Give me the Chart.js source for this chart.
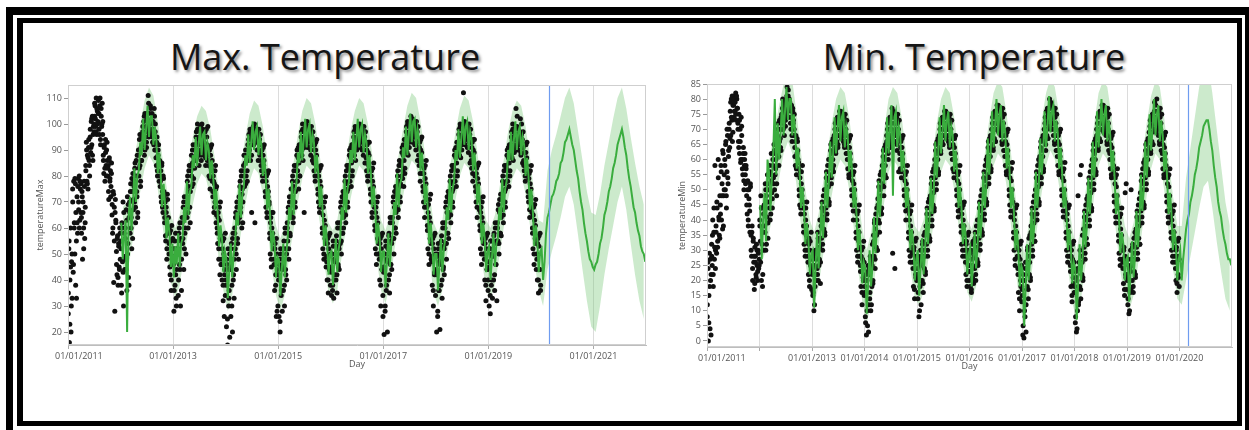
<!DOCTYPE html>
<html>
<head>
<meta charset="utf-8">
<script src="https://cdn.jsdelivr.net/npm/chart.js@4.4.1/dist/chart.umd.min.js"></script>
<style>
  body { margin: 0; width: 1249px; height: 430px; overflow: hidden; background: #fff; position: relative; font-family: "Open Sans", sans-serif; }
  .outer { position: absolute; left: 6px; top: 7px; width: 1247px; height: 440px; box-sizing: border-box;
           border-top: 8px solid #000; border-left: 7px solid #000; border-right: 8px solid #000; }
  .inner { position: absolute; left: 17px; top: 18px; width: 1225px; height: 408px; box-sizing: border-box;
           border: 5px solid #000; border-left-width: 6px; }
  .title { position: absolute; top: 32px; width: 600px; text-align: center; font-size: 36px; line-height: 50px;
           color: #151515; text-shadow: 2px 2px 3px rgba(0,0,0,0.45); }
  canvas { position: absolute; }
</style>
</head>
<body>
<div class="outer"></div>
<div class="inner"></div>
<div class="title" style="left:25px">Max. Temperature</div>
<div class="title" style="left:674px">Min. Temperature</div>
<canvas id="maxChart" width="636" height="305" style="left:24px;top:75px"></canvas>
<canvas id="minChart" width="574" height="306" style="left:662px;top:74px"></canvas>
<script>
// ---- data ----
// daily readings, sampled 8 per month, Jan 2011 .. Dec 2019
const maxDots = [
  // 2011
  27, 52, 16, 40, 60, 20, 47, 33,   75, 43, 78, 62, 50, 77, 66, 33,   72, 58, 79, 67, 80, 63, 75, 77,
  64, 74, 48, 70, 60, 78, 56, 68,   84, 93, 78, 88, 75, 91, 86, 80,   95, 89, 101, 92, 103, 86, 99, 97,
  103, 107, 99, 110, 96, 105, 101, 109,   104, 96, 110, 92, 106, 99, 108, 101,   88, 81, 92, 78, 94, 84, 90, 86,
  80, 84, 71, 87, 78, 82, 76, 85,   65, 58, 74, 39, 68, 28, 71, 62,   51, 42, 57, 38, 54, 45, 60, 48,
  // 2012
  55, 38, 62, 47, 70, 30, 58, 44,   60, 48, 67, 36, 72, 54, 41, 64,   70, 58, 77, 64, 52, 74, 81, 67,
  78, 70, 85, 62, 80, 74, 88, 66,   88, 80, 94, 84, 76, 91, 86, 95,   97, 92, 101, 88, 104, 95, 99, 91,
  102, 98, 111, 95, 104, 100, 107, 97,   98, 104, 93, 101, 96, 106, 90, 100,   90, 84, 95, 80, 88, 92, 78, 86,
  76, 82, 70, 85, 74, 66, 79, 72,   62, 70, 55, 66, 48, 73, 58, 64,   50, 58, 42, 55, 36, 61, 46, 52,
  // 2013
  46, 28, 52, 38, 58, 33, 44, 50,   52, 34, 58, 46, 62, 30, 55, 48,   62, 54, 68, 44, 72, 58, 66, 50,
  72, 64, 80, 60, 76, 84, 68, 74,   82, 88, 76, 85, 92, 79, 86, 90,   92, 86, 97, 90, 100, 88, 94, 84,
  95, 90, 99, 86, 96, 92, 98, 89,   93, 88, 97, 84, 91, 95, 86, 99,   86, 80, 90, 75, 88, 83, 92, 78,
  74, 80, 66, 77, 70, 84, 62, 76,   60, 54, 66, 48, 63, 42, 70, 57,   48, 40, 55, 32, 50, 26, 44, 58,
  // 2014
  40, 22, 46, 15, 52, 30, 36, 18,   46, 26, 54, 38, 20, 58, 42, 33,   60, 52, 66, 44, 70, 56, 63, 48,
  72, 64, 78, 68, 82, 60, 75, 70,   82, 88, 76, 85, 90, 80, 86, 78,   92, 88, 96, 90, 98, 86, 94, 66,
  96, 92, 99, 94, 97, 62, 98, 95,   94, 90, 97, 86, 95, 92, 88, 96,   86, 82, 90, 78, 88, 84, 92, 80,
  74, 68, 80, 64, 76, 72, 82, 70,   58, 50, 64, 45, 60, 55, 66, 52,   48, 36, 54, 42, 26, 50, 44, 30,
  // 2015
  42, 26, 48, 20, 52, 34, 45, 28,   48, 36, 55, 30, 60, 44, 52, 40,   62, 55, 68, 48, 72, 58, 65, 75,
  72, 66, 80, 62, 76, 84, 70, 74,   84, 78, 90, 82, 87, 75, 92, 80,   92, 88, 97, 90, 100, 86, 94, 66,
  97, 93, 100, 95, 98, 91, 99, 94,   95, 91, 98, 88, 96, 93, 86, 97,   87, 82, 92, 78, 90, 84, 94, 80,
  75, 70, 82, 66, 78, 72, 84, 68,   60, 52, 68, 48, 63, 56, 72, 45,   49, 40, 56, 35, 52, 44, 58, 38,
  // 2016
  45, 34, 50, 38, 55, 33, 48, 42,   50, 40, 57, 35, 62, 46, 53, 44,   62, 54, 70, 50, 66, 58, 74, 60,
  73, 66, 80, 62, 77, 84, 70, 75,   84, 78, 90, 80, 87, 76, 92, 82,   92, 88, 97, 90, 99, 86, 94, 90,
  97, 93, 99, 95, 98, 91, 96, 94,   95, 90, 98, 88, 96, 92, 85, 97,   87, 82, 92, 78, 89, 84, 93, 80,
  75, 70, 82, 64, 78, 72, 85, 68,   61, 52, 68, 46, 64, 56, 72, 50,   50, 40, 56, 30, 52, 44, 58, 26,
  // 2017
  45, 19, 50, 30, 55, 36, 48, 20,   52, 40, 58, 35, 64, 46, 55, 44,   64, 56, 72, 50, 68, 60, 76, 58,
  75, 68, 82, 64, 78, 86, 72, 77,   85, 80, 91, 82, 88, 76, 94, 83,   94, 90, 99, 92, 101, 88, 96, 91,
  99, 95, 103, 97, 100, 93, 98, 96,   97, 92, 100, 90, 98, 94, 86, 99,   88, 84, 93, 78, 90, 86, 95, 81,
  76, 70, 83, 64, 79, 72, 86, 68,   61, 52, 69, 46, 64, 56, 73, 48,   49, 38, 56, 30, 52, 42, 58, 34,
  // 2018
  44, 20, 50, 28, 54, 36, 47, 21,   50, 38, 57, 33, 62, 44, 53, 42,   62, 54, 70, 48, 66, 58, 74, 56,
  73, 66, 80, 62, 77, 84, 70, 75,   84, 78, 90, 80, 87, 76, 93, 82,   93, 89, 98, 91, 100, 87, 95, 90,
  98, 94, 112, 96, 100, 92, 99, 95,   96, 91, 99, 89, 97, 93, 85, 98,   88, 83, 93, 78, 90, 85, 94, 80,
  76, 70, 83, 64, 79, 72, 85, 67,   61, 52, 68, 46, 64, 56, 72, 50,   50, 40, 56, 32, 52, 44, 58, 36,
  // 2019
  47, 30, 52, 27, 55, 38, 50, 33,   52, 40, 58, 36, 62, 46, 55, 32,   62, 55, 69, 50, 66, 58, 73, 57,
  73, 67, 80, 62, 77, 84, 70, 75,   84, 78, 90, 80, 87, 76, 92, 82,   92, 88, 97, 90, 100, 86, 94, 89,
  96, 92, 106, 94, 99, 90, 98, 93,   94, 90, 102, 88, 96, 92, 85, 97,   86, 82, 92, 78, 89, 84, 93, 80,
  74, 70, 81, 64, 77, 72, 84, 66,   60, 52, 68, 46, 63, 56, 71, 44,   50, 40, 56, 35, 53, 44, 58, 38
];
// second set of daily readings, 6 per month, Jan 2011 .. Dec 2019
const maxDotsB = [
  35, 55, 23, 45, 30, 50,  70, 46, 60, 79, 38, 55,  62, 76, 70, 60, 78, 66,  58, 72, 66, 52, 76, 62,  82, 90, 77, 87, 94, 84,  98, 91, 102, 88, 96, 100,
  108, 102, 97, 106, 100, 104,  98, 107, 94, 103, 100, 96,  86, 91, 83, 89, 80, 93,  83, 74, 86, 79, 72, 81,  69, 60, 73, 55, 66, 63,  46, 56, 41, 53, 44, 58,
  52, 35, 60, 43, 66, 49,  56, 44, 63, 50, 69, 38,  66, 74, 60, 79, 56, 71,  76, 83, 68, 86, 72, 64,  90, 83, 96, 78, 86, 92,  99, 94, 103, 90, 97, 93,
  104, 99, 108, 96, 101, 106,  101, 95, 98, 92, 103, 97,  87, 93, 82, 90, 85, 80,  78, 72, 84, 68, 80, 74,  64, 57, 68, 52, 71, 60,  54, 45, 59, 40, 48, 56,
  49, 36, 55, 42, 30, 52,  50, 40, 60, 44, 56, 36,  64, 56, 70, 52, 60, 68,  70, 78, 66, 82, 74, 62,  84, 80, 90, 77, 87, 83,  90, 95, 87, 98, 92, 89,
  93, 97, 88, 100, 94, 91,  90, 95, 87, 98, 92, 89,  84, 88, 79, 91, 82, 86,  72, 78, 68, 82, 75, 65,  58, 64, 52, 68, 56, 46,  46, 52, 38, 56, 42, 34,
  38, 48, 25, 44, 33, 50,  44, 52, 30, 56, 40, 48,  58, 64, 50, 68, 54, 62,  70, 76, 66, 80, 73, 62,  84, 80, 88, 77, 86, 82,  90, 94, 86, 97, 92, 88,
  95, 98, 92, 100, 94, 97,  93, 96, 90, 98, 94, 89,  84, 88, 80, 91, 86, 82,  72, 78, 66, 81, 74, 69,  56, 62, 48, 66, 58, 52,  46, 52, 38, 56, 28, 42,
  40, 46, 24, 50, 36, 44,  46, 52, 38, 58, 42, 50,  60, 66, 52, 70, 57, 64,  70, 78, 64, 82, 74, 68,  82, 88, 78, 91, 85, 80,  90, 95, 88, 98, 93, 91,
  95, 99, 92, 101, 96, 94,  93, 97, 90, 99, 95, 92,  85, 90, 80, 93, 88, 83,  73, 80, 68, 83, 76, 70,  58, 65, 50, 70, 61, 54,  47, 54, 40, 57, 44, 50,
  43, 50, 36, 53, 40, 47,  48, 55, 42, 60, 45, 52,  60, 68, 55, 72, 58, 64,  71, 78, 65, 82, 74, 68,  83, 88, 78, 91, 85, 80,  90, 95, 88, 98, 93, 91,
  95, 98, 92, 100, 96, 94,  93, 97, 90, 99, 95, 92,  85, 90, 80, 93, 88, 83,  73, 80, 66, 83, 76, 70,  59, 66, 50, 70, 62, 54,  48, 54, 38, 57, 44, 34,
  43, 50, 28, 53, 38, 47,  50, 57, 42, 62, 46, 54,  62, 70, 56, 74, 60, 66,  73, 80, 67, 84, 76, 70,  84, 89, 79, 92, 86, 81,  92, 97, 89, 100, 94, 93,
  97, 101, 94, 102, 98, 96,  95, 99, 92, 101, 97, 94,  86, 91, 81, 94, 89, 84,  74, 81, 68, 84, 77, 71,  59, 66, 50, 71, 62, 54,  47, 54, 36, 57, 43, 50,
  42, 49, 26, 52, 36, 46,  48, 55, 40, 60, 45, 52,  60, 68, 54, 72, 58, 64,  71, 78, 65, 82, 74, 68,  83, 88, 78, 91, 85, 80,  91, 96, 88, 99, 93, 92,
  96, 100, 93, 101, 97, 95,  94, 98, 91, 100, 96, 93,  86, 91, 81, 94, 89, 84,  74, 81, 68, 84, 77, 71,  59, 66, 50, 70, 62, 54,  48, 54, 38, 57, 44, 40,
  45, 52, 34, 55, 40, 49,  50, 57, 42, 60, 46, 54,  60, 67, 54, 71, 58, 64,  71, 78, 65, 82, 74, 68,  83, 88, 78, 91, 85, 80,  90, 95, 87, 98, 92, 91,
  94, 99, 91, 103, 96, 95,  92, 97, 89, 100, 94, 91,  84, 89, 80, 92, 87, 82,  72, 79, 67, 82, 75, 69,  58, 65, 50, 69, 61, 54,  48, 54, 40, 57, 44, 36
];

// model fit + forecast, 3 per month, Jan 2012 .. Dec 2021
const maxFit = [
  62, 48, 57,  63, 20, 64,  72, 59, 69,  83, 70, 80,  82, 93, 88,  102, 90, 98,  107, 95, 103,  103, 92, 99,  94, 81, 89,  81, 68, 77,  69, 56, 64,  58, 45, 54,
  41, 53, 46,  58, 45, 54,  56, 68, 62,  78, 65, 74,  76, 88, 83,  95, 84, 92,  99, 88, 96,  97, 86, 93,  90, 79, 86,  80, 67, 75,  66, 53, 61,  56, 43, 51,
  48, 33, 44,  54, 41, 50,  54, 66, 61,  77, 64, 73,  76, 88, 84,  96, 85, 93,  101, 90, 97,  99, 88, 95,  92, 80, 87,  80, 67, 75,  64, 51, 59,  54, 41, 49,
  48, 34, 44,  54, 41, 50,  56, 68, 63,  78, 65, 74,  77, 89, 85,  97, 86, 94,  102, 91, 98,  100, 89, 96,  93, 81, 88,  81, 68, 76,  66, 53, 61,  55, 42, 50,
  51, 38, 47,  56, 43, 52,  56, 68, 63,  79, 66, 75,  78, 90, 85,  97, 86, 94,  102, 91, 98,  100, 89, 96,  93, 81, 88,  81, 68, 76,  67, 54, 62,  56, 43, 51,
  51, 37, 47,  58, 45, 54,  58, 70, 65,  81, 68, 77,  79, 91, 87,  99, 88, 96,  104, 93, 101,  102, 91, 98,  94, 82, 89,  82, 69, 77,  67, 54, 62,  55, 42, 50,
  50, 36, 46,  56, 43, 52,  56, 68, 63,  79, 66, 75,  78, 90, 86,  98, 87, 95,  103, 92, 99,  101, 90, 97,  94, 82, 89,  82, 69, 77,  67, 54, 62,  56, 43, 51,
  53, 40, 49,  58, 45, 54,  56, 68, 63,  79, 66, 75,  78, 90, 86,  97, 86, 94,  101, 90, 97,  99, 88, 95,  92, 80, 87,  80, 67, 75,  66, 53, 61,  56, 43, 51,
  52, 40, 47,  58, 64, 66,  69, 72, 73,  75, 78, 79,  81, 85, 86,  89, 93, 94,  96, 98, 95,  92, 90, 86,  82, 79, 74,  70, 67, 62,  58, 55, 51,  48, 47, 45,
  44, 46, 47,  50, 54, 56,  60, 65, 67,  70, 74, 76,  79, 83, 85,  88, 92, 94,  96, 98, 95,  91, 88, 83,  79, 76, 72,  68, 66, 62,  59, 57, 53,  51, 50, 47
];

// confidence band, monthly, Jan 2012 .. Dec 2021
const maxBandHigh = [
  68, 70, 80, 90, 100, 109, 114, 111, 101, 88, 76, 65,
  60, 65, 75, 85, 95, 103, 107, 105, 98, 87, 73, 63,
  56, 61, 73, 84, 95, 104, 109, 107, 99, 87, 71, 61,
  56, 61, 75, 85, 96, 105, 110, 108, 100, 88, 73, 62,
  59, 63, 75, 86, 97, 105, 110, 108, 100, 88, 74, 63,
  59, 65, 77, 88, 98, 107, 112, 110, 101, 89, 74, 62,
  58, 63, 75, 86, 97, 106, 111, 109, 101, 89, 74, 63,
  60, 65, 75, 86, 97, 105, 109, 107, 99, 87, 73, 63,
  62, 82, 90, 96, 103, 110, 114, 108, 97, 86, 74, 66,
  65, 73, 84, 93, 102, 110, 114, 106, 95, 85, 76, 69
];
const maxBandLow = [
  42, 42, 52, 64, 74, 83, 88, 85, 75, 62, 50, 39,
  33, 38, 49, 59, 69, 77, 81, 79, 72, 61, 47, 36,
  28, 34, 47, 58, 69, 78, 83, 81, 73, 61, 45, 34,
  28, 34, 49, 59, 70, 79, 84, 82, 74, 62, 47, 35,
  31, 36, 49, 60, 71, 79, 84, 82, 74, 62, 48, 36,
  31, 38, 51, 62, 72, 81, 86, 84, 75, 63, 48, 35,
  30, 36, 49, 60, 71, 80, 85, 83, 75, 63, 48, 36,
  33, 38, 49, 60, 71, 79, 83, 81, 73, 61, 47, 36,
  30, 44, 51, 57, 64, 72, 76, 69, 57, 44, 32, 22,
  20, 30, 42, 52, 61, 70, 76, 67, 54, 42, 32, 25
];

const minDots = [
  // 2011
  8, 26, 0, 15, 29, 4, 20, 22,   32, 25, 40, 18, 36, 27, 58, 30,   38, 29, 44, 33, 60, 41, 35, 48,
  45, 58, 40, 52, 37, 62, 48, 55,   60, 50, 66, 44, 56, 68, 52, 63,   70, 64, 76, 68, 80, 73, 66, 78,
  78, 74, 81, 76, 82, 73, 80, 77,   72, 66, 75, 62, 70, 59, 74, 68,   60, 55, 64, 50, 58, 62, 52, 57,
  48, 42, 53, 38, 50, 45, 36, 51,   35, 28, 38, 20, 33, 26, 17, 31,   28, 22, 32, 25, 20, 30, 24, 27,
  // 2012
  40, 33, 48, 20, 44, 18, 36, 30,   45, 38, 52, 30, 48, 41, 55, 34,   52, 46, 58, 40, 55, 62, 49, 44,
  60, 54, 65, 50, 62, 57, 66, 52,   68, 62, 72, 58, 66, 70, 64, 74,   75, 70, 80, 72, 78, 68, 76, 73,
  79, 75, 84, 77, 81, 74, 80, 78,   74, 70, 78, 66, 76, 72, 68, 75,   64, 58, 68, 55, 62, 66, 60, 57,
  50, 45, 56, 42, 52, 48, 58, 44,   38, 32, 44, 28, 40, 35, 46, 30,   28, 22, 34, 18, 30, 25, 36, 17,
  // 2013
  22, 15, 28, 10, 25, 18, 30, 20,   30, 24, 36, 20, 33, 27, 40, 26,   40, 34, 46, 30, 43, 37, 50, 35,
  50, 44, 56, 40, 53, 47, 60, 46,   60, 55, 65, 52, 62, 57, 67, 58,   68, 64, 72, 62, 70, 66, 74, 65,
  72, 68, 76, 70, 74, 67, 75, 71,   70, 66, 74, 64, 72, 68, 62, 73,   62, 57, 66, 54, 64, 60, 68, 56,
  50, 45, 55, 40, 52, 47, 58, 43,   36, 30, 42, 26, 38, 33, 45, 28,   25, 18, 30, 12, 27, 21, 33, 15,
  // 2014
  18, 8, 22, 2, 20, 5, 25, 12,   24, 14, 28, 10, 26, 18, 32, 20,   35, 28, 40, 24, 37, 31, 44, 30,
  47, 40, 53, 36, 50, 43, 56, 44,   58, 52, 63, 48, 60, 55, 65, 54,   68, 63, 72, 60, 70, 65, 74, 66,
  72, 68, 77, 29, 74, 66, 75, 24,   70, 66, 74, 63, 72, 68, 56, 73,   62, 57, 66, 54, 64, 60, 68, 58,
  50, 45, 55, 40, 52, 47, 58, 44,   36, 30, 42, 26, 38, 33, 45, 29,   26, 18, 31, 14, 28, 22, 34, 20,
  // 2015
  24, 14, 28, 8, 26, 18, 30, 12,   28, 20, 33, 16, 30, 24, 36, 22,   38, 32, 44, 28, 40, 35, 47, 33,
  48, 42, 54, 38, 51, 45, 57, 44,   60, 54, 65, 50, 62, 57, 67, 56,   68, 64, 72, 62, 70, 66, 74, 65,
  72, 68, 76, 70, 74, 67, 75, 71,   70, 66, 74, 64, 72, 68, 62, 73,   62, 57, 67, 54, 64, 60, 68, 56,
  50, 45, 55, 41, 52, 47, 58, 44,   38, 32, 44, 28, 40, 35, 46, 30,   28, 22, 33, 18, 30, 25, 36, 20,
  // 2016
  25, 18, 30, 16, 27, 21, 33, 19,   30, 24, 36, 20, 33, 27, 40, 25,   40, 34, 46, 30, 43, 37, 50, 35,
  50, 44, 56, 40, 53, 47, 60, 46,   61, 55, 66, 52, 63, 58, 68, 57,   70, 65, 74, 63, 72, 67, 76, 66,
  74, 70, 78, 72, 76, 69, 77, 73,   72, 68, 76, 65, 74, 70, 63, 75,   63, 58, 68, 55, 65, 61, 70, 57,
  50, 45, 56, 41, 53, 47, 59, 43,   36, 30, 42, 25, 38, 33, 45, 28,   24, 16, 30, 10, 27, 20, 33, 13,
  // 2017
  17, 2, 22, 1, 20, 8, 26, 12,   26, 18, 31, 14, 28, 22, 35, 20,   38, 32, 44, 28, 41, 35, 48, 33,
  50, 44, 56, 40, 53, 47, 60, 46,   61, 55, 66, 52, 63, 58, 68, 57,   70, 66, 74, 63, 72, 68, 77, 67,
  75, 71, 80, 73, 77, 70, 78, 74,   72, 68, 76, 65, 74, 70, 63, 75,   63, 58, 68, 55, 65, 61, 70, 57,
  50, 45, 56, 41, 53, 47, 59, 43,   36, 30, 42, 26, 38, 33, 45, 28,   25, 18, 30, 13, 27, 21, 33, 16,
  // 2018
  18, 6, 23, 3, 20, 10, 48, 13,   26, 18, 55, 14, 28, 22, 35, 20,   37, 31, 43, 27, 40, 34, 47, 32,
  48, 42, 54, 38, 51, 45, 58, 44,   60, 54, 65, 50, 62, 57, 67, 56,   70, 65, 74, 63, 72, 67, 76, 66,
  74, 70, 78, 72, 76, 69, 77, 73,   72, 68, 76, 65, 74, 70, 63, 75,   62, 57, 67, 54, 64, 60, 69, 56,
  48, 43, 54, 39, 51, 45, 57, 41,   35, 29, 41, 25, 37, 32, 44, 27,   26, 19, 31, 15, 28, 22, 52, 17,
  // 2019
  22, 12, 27, 9, 24, 16, 30, 50,   27, 20, 32, 16, 29, 23, 36, 21,   37, 31, 43, 27, 40, 34, 47, 32,
  49, 43, 55, 39, 52, 46, 59, 45,   60, 54, 65, 50, 62, 57, 67, 56,   69, 64, 73, 62, 71, 66, 75, 65,
  74, 70, 79, 72, 76, 69, 80, 73,   72, 68, 76, 65, 74, 70, 63, 75,   62, 57, 67, 54, 64, 60, 69, 56,
  48, 43, 54, 39, 51, 45, 57, 41,   36, 30, 42, 26, 38, 33, 45, 28,   26, 20, 31, 16, 28, 22, 34, 18
];
// second set, 6 per month, Jan 2011 .. Dec 2019
const minDotsB = [
  12, 24, 6, 18, 27, 2,  28, 35, 22, 44, 31, 24,  36, 46, 31, 54, 40, 34,  42, 56, 48, 63, 38, 50,  58, 65, 48, 70, 54, 61,  72, 67, 79, 74, 81, 69,
  80, 76, 79, 75, 81, 77,  70, 64, 73, 66, 60, 71,  57, 62, 53, 60, 55, 58,  45, 50, 40, 47, 43, 52,  30, 36, 24, 34, 28, 19,  26, 21, 30, 23, 29, 25,
  38, 26, 44, 32, 22, 42,  42, 36, 50, 32, 46, 39,  50, 44, 56, 42, 53, 47,  58, 52, 63, 55, 60, 48,  65, 70, 61, 73, 67, 63,  73, 77, 70, 79, 74, 71,
  77, 81, 76, 83, 78, 79,  72, 76, 68, 77, 73, 70,  61, 66, 57, 67, 63, 59,  48, 54, 44, 56, 50, 46,  36, 42, 30, 44, 38, 33,  26, 32, 20, 33, 27, 23,
  24, 16, 29, 12, 22, 27,  28, 22, 34, 25, 31, 19,  38, 44, 32, 48, 41, 36,  48, 54, 42, 58, 51, 45,  58, 63, 54, 66, 60, 56,  66, 70, 63, 73, 68, 64,
  70, 74, 68, 76, 72, 69,  68, 72, 65, 75, 70, 66,  60, 64, 55, 67, 62, 58,  48, 53, 43, 56, 50, 45,  34, 40, 28, 43, 36, 31,  23, 28, 16, 31, 20, 26,
  16, 6, 20, 10, 23, 3,  22, 16, 27, 12, 25, 19,  33, 39, 27, 42, 35, 30,  45, 51, 39, 55, 48, 42,  56, 61, 51, 64, 58, 54,  66, 70, 62, 73, 68, 64,
  70, 74, 67, 76, 72, 69,  68, 72, 65, 75, 70, 67,  60, 64, 56, 67, 62, 58,  48, 53, 43, 56, 50, 46,  34, 40, 28, 43, 36, 31,  24, 30, 17, 33, 21, 27,
  22, 16, 27, 10, 25, 20,  26, 32, 19, 35, 28, 23,  36, 42, 30, 46, 38, 34,  46, 52, 40, 56, 49, 43,  58, 63, 52, 66, 60, 55,  66, 70, 63, 73, 68, 65,
  70, 74, 68, 76, 72, 70,  68, 72, 65, 75, 70, 67,  60, 65, 56, 67, 62, 58,  48, 53, 43, 56, 50, 46,  36, 42, 30, 45, 38, 33,  26, 32, 20, 35, 23, 29,
  23, 29, 17, 32, 25, 20,  28, 34, 22, 38, 31, 26,  38, 44, 32, 48, 41, 36,  48, 54, 42, 58, 51, 45,  59, 64, 54, 67, 61, 56,  68, 72, 64, 75, 70, 66,
  72, 76, 70, 78, 74, 71,  70, 74, 66, 77, 72, 68,  61, 66, 56, 69, 63, 59,  48, 54, 43, 57, 50, 46,  34, 40, 27, 44, 36, 31,  22, 28, 14, 32, 18, 25,
  15, 5, 20, 10, 24, 3,  24, 30, 17, 34, 26, 21,  36, 42, 30, 46, 39, 33,  48, 54, 42, 58, 51, 45,  59, 64, 54, 67, 61, 56,  68, 72, 65, 76, 70, 67,
  73, 77, 71, 79, 75, 72,  70, 74, 66, 77, 72, 68,  61, 66, 56, 69, 63, 59,  48, 54, 43, 57, 50, 46,  34, 40, 28, 44, 36, 31,  23, 28, 15, 32, 19, 26,
  16, 8, 21, 4, 24, 12,  24, 30, 17, 58, 26, 21,  35, 41, 29, 45, 38, 32,  46, 52, 40, 56, 49, 43,  58, 63, 52, 66, 60, 55,  68, 72, 64, 75, 70, 66,
  72, 76, 70, 78, 74, 71,  70, 74, 66, 77, 72, 68,  60, 65, 55, 68, 62, 58,  46, 52, 41, 55, 48, 44,  33, 39, 27, 42, 35, 30,  24, 30, 17, 49, 21, 27,
  20, 14, 25, 10, 23, 17,  25, 31, 18, 34, 27, 22,  35, 41, 29, 45, 38, 32,  47, 53, 41, 57, 50, 44,  58, 63, 52, 66, 60, 55,  67, 71, 63, 74, 69, 65,
  72, 76, 70, 78, 74, 71,  70, 74, 66, 77, 72, 68,  60, 65, 55, 68, 62, 58,  46, 52, 41, 55, 48, 44,  34, 40, 28, 43, 36, 31,  24, 30, 19, 33, 21, 27
];

// 3 per month, Jan 2012 .. Dec 2020
const minFit = [
  45, 27, 40,  49, 33, 60,  56, 43, 54,  63, 80, 55,  72, 60, 69,  80, 68, 76,  84, 73, 80,  80, 68, 75,  69, 57, 64,  56, 44, 51,  44, 32, 39,  34, 22, 29,
  30, 11, 25,  36, 24, 32,  46, 34, 42,  56, 44, 52,  66, 54, 62,  74, 62, 70,  78, 66, 74,  76, 64, 71,  68, 56, 63,  56, 44, 51,  42, 30, 37,  31, 19, 26,
  24, 9, 19,  30, 18, 25,  41, 29, 37,  53, 41, 48,  64, 52, 59,  74, 62, 70,  78, 48, 74,  76, 64, 71,  68, 56, 63,  56, 44, 51,  42, 30, 37,  32, 20, 27,
  30, 15, 24,  34, 22, 29,  44, 32, 39,  54, 42, 49,  66, 54, 61,  74, 62, 69,  78, 66, 73,  76, 64, 71,  68, 56, 63,  56, 44, 51,  44, 32, 39,  34, 22, 29,
  31, 18, 26,  36, 24, 31,  46, 34, 41,  56, 44, 51,  67, 55, 62,  76, 64, 71,  80, 68, 75,  78, 66, 73,  69, 57, 64,  56, 44, 51,  42, 30, 37,  30, 18, 25,
  23, 5, 18,  32, 20, 27,  44, 32, 39,  56, 44, 51,  67, 55, 62,  76, 64, 71,  81, 69, 76,  78, 66, 73,  69, 57, 64,  56, 44, 51,  42, 30, 37,  31, 19, 26,
  24, 7, 19,  32, 20, 27,  43, 31, 38,  54, 42, 49,  66, 54, 61,  76, 64, 71,  80, 68, 75,  78, 66, 73,  68, 56, 63,  54, 42, 49,  41, 29, 36,  32, 20, 27,
  28, 13, 23,  33, 21, 28,  43, 31, 38,  55, 43, 50,  66, 54, 61,  75, 63, 70,  80, 68, 75,  78, 66, 73,  68, 56, 63,  54, 42, 49,  42, 30, 37,  32, 20, 27,
  30, 20, 27,  32, 37, 40,  42, 46, 48,  51, 55, 57,  60, 64, 66,  68, 71, 72,  73, 73, 70,  66, 63, 58,  54, 51, 46,  43, 41, 37,  34, 32, 29,  27, 27, 25
];

const minBandHigh = [
  50, 54, 62, 70, 78, 85, 89, 86, 75, 62, 50, 40,
  36, 42, 52, 62, 72, 80, 84, 82, 74, 62, 48, 37,
  30, 36, 47, 59, 70, 80, 84, 82, 74, 62, 48, 38,
  36, 40, 50, 60, 72, 80, 84, 82, 74, 62, 50, 40,
  37, 42, 52, 62, 73, 82, 86, 84, 75, 62, 48, 36,
  29, 38, 50, 62, 73, 82, 87, 84, 75, 62, 48, 37,
  30, 38, 49, 60, 72, 82, 86, 84, 74, 60, 47, 38,
  34, 39, 49, 61, 72, 81, 86, 84, 74, 60, 48, 38,
  38, 54, 64, 74, 84, 90, 92, 82, 70, 58, 46, 38
];
const minBandLow = [
  26, 30, 38, 46, 54, 62, 66, 62, 51, 38, 26, 16,
  12, 18, 28, 38, 48, 56, 60, 58, 50, 38, 24, 13,
  6, 12, 23, 35, 46, 56, 60, 58, 50, 38, 24, 14,
  12, 16, 26, 36, 48, 56, 60, 58, 50, 38, 26, 16,
  13, 18, 28, 38, 49, 58, 62, 60, 51, 38, 24, 12,
  5, 14, 26, 38, 49, 58, 63, 60, 51, 38, 24, 13,
  6, 14, 25, 36, 48, 58, 62, 60, 50, 36, 23, 14,
  10, 15, 25, 37, 48, 57, 62, 60, 50, 36, 24, 14,
  12, 20, 28, 36, 44, 51, 53, 44, 33, 23, 14, 10
];

const maxXTicks = [2011, 2013, 2015, 2017, 2019, 2021];
const maxXLabels = ['01/01/2011', '01/01/2013', '01/01/2015', '01/01/2017', '01/01/2019', '01/01/2021'];
const maxYTicks = [20, 30, 40, 50, 60, 70, 80, 90, 100, 110];
const minXTicks = [2011, 2012, 2013, 2014, 2015, 2016, 2017, 2018, 2019, 2020];
const minXLabels = ['01/01/2011', '', '01/01/2013', '01/01/2014', '01/01/2015', '01/01/2016', '01/01/2017', '01/01/2018', '01/01/2019', '01/01/2020'];
const minYTicks = [0, 5, 10, 15, 20, 25, 30, 35, 40, 45, 50, 55, 60, 65, 70, 75, 80, 85];
const maxForecastStart = 2020.15;
const minForecastStart = 2020.16;

// place each value at its date (start year, values per month)
function toPoints(values, startYear, perMonth) {
  return values.map((v, i) => ({
    x: startYear + (Math.floor(i / perMonth) + ((i % perMonth) + 0.5) / perMonth) / 12,
    y: v
  }));
}

Chart.defaults.font.family = '"Open Sans", sans-serif';
Chart.defaults.color = '#555';

// blue forecast marker, plot frame and the shifted first date label
const extras = {
  id: 'extras',
  afterDatasetsDraw(chart, args, opts) {
    const { ctx, chartArea: a, scales: { x } } = chart;
    ctx.save();
    const bx = Math.round(x.getPixelForValue(opts.forecastStart)) + 0.5;
    ctx.strokeStyle = '#6f9cf0';
    ctx.lineWidth = 1.2;
    ctx.beginPath();
    ctx.moveTo(bx, a.top);
    ctx.lineTo(bx, a.bottom);
    ctx.stroke();
    ctx.strokeStyle = '#cfcfcf';
    ctx.lineWidth = 1;
    ctx.strokeRect(a.left + 0.5, a.top + 0.5, a.width - 1, a.height - 1);
    ctx.restore();
  },
  afterDraw(chart, args, opts) {
    const { ctx, scales: { x } } = chart;
    ctx.save();
    ctx.font = '9px "Open Sans"';
    ctx.fillStyle = '#555';
    ctx.textAlign = 'left';
    ctx.textBaseline = 'middle';
    ctx.fillText(opts.firstLabel, x.getPixelForValue(opts.firstTick) - opts.shift, x.top + 11.5);
    ctx.restore();
  }
};

function makeChart(id, cfg) {
  return new Chart(document.getElementById(id), {
    type: 'scatter',
    data: {
      datasets: [
        {
          data: toPoints(cfg.fit, 2012, 3), showLine: true, order: 0,
          borderColor: '#3aad3e', borderWidth: 2, pointRadius: 0, fill: false
        },
        {
          data: toPoints(cfg.dots, 2011, 8).concat(toPoints(cfg.dotsB, 2011, 6)), order: 1,
          backgroundColor: '#111', borderWidth: 0, pointRadius: 2.5
        },
        {
          data: toPoints(cfg.bandHigh, 2012, 1), showLine: true, order: 2,
          borderWidth: 0, pointRadius: 0, fill: '+1', backgroundColor: 'rgba(120, 200, 120, 0.38)'
        },
        {
          data: toPoints(cfg.bandLow, 2012, 1), showLine: true, order: 3,
          borderWidth: 0, pointRadius: 0, fill: false
        }
      ]
    },
    options: {
      responsive: false,
      animation: false,
      events: [],
      layout: { padding: cfg.padding },
      plugins: {
        legend: { display: false },
        tooltip: { enabled: false },
        extras: { forecastStart: cfg.forecastStart, firstTick: cfg.xTicks[0], firstLabel: cfg.xLabels[0], shift: cfg.shift }
      },
      scales: {
        x: {
          type: 'linear', min: cfg.xMin, max: cfg.xMax,
          afterBuildTicks: s => { s.ticks = cfg.xTicks.map(v => ({ value: v })); },
          afterFit: s => { s.height = 25; },
          ticks: {
            autoSkip: false, maxRotation: 0, minRotation: 0, padding: 2, font: { size: 9 },
            callback: (v, i) => (i === 0 ? '' : cfg.xLabels[i])
          },
          grid: { color: '#dcdcdc', tickColor: '#aaa', tickLength: 4 },
          border: { color: '#bdbdbd' },
          title: { display: true, text: 'Day', font: { size: 9 }, padding: 0, color: '#555' }
        },
        y: {
          min: cfg.yMin, max: cfg.yMax,
          afterBuildTicks: s => { s.ticks = cfg.yTicks.map(v => ({ value: v })); },
          afterFit: s => { s.width = cfg.yWidth; },
          ticks: { padding: 2, font: { size: 9 } },
          grid: { drawOnChartArea: false, tickColor: '#999', tickLength: 4 },
          border: { color: '#bdbdbd' },
          title: { display: true, text: cfg.yTitle, font: { size: 9 }, padding: { top: 5 }, color: '#555' }
        }
      }
    },
    plugins: [extras]
  });
}

makeChart('maxChart', {
  dots: maxDots, dotsB: maxDotsB, fit: maxFit, bandHigh: maxBandHigh, bandLow: maxBandLow,
  xTicks: maxXTicks, xLabels: maxXLabels, yTicks: maxYTicks,
  xMin: 2011, xMax: 2022, yMin: 15, yMax: 115, yTitle: 'temperatureMax',
  forecastStart: maxForecastStart, shift: 13, yWidth: 38,
  padding: { left: 6, right: 14, top: 10, bottom: 10 }
});

makeChart('minChart', {
  dots: minDots, dotsB: minDotsB, fit: minFit, bandHigh: minBandHigh, bandLow: minBandLow,
  xTicks: minXTicks, xLabels: minXLabels, yTicks: minYTicks,
  xMin: 2011, xMax: 2021, yMin: -2, yMax: 85, yTitle: 'temperatureMin',
  forecastStart: minForecastStart, shift: 9, yWidth: 35,
  padding: { left: 10, right: 4, top: 10, bottom: 8 }
});
</script>
</body>
</html>
